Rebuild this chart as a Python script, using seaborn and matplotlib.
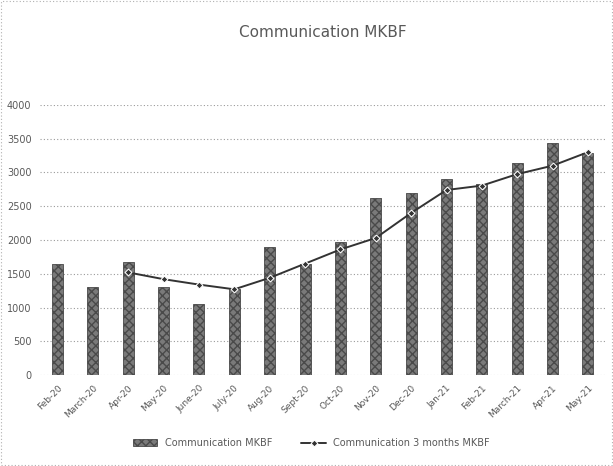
import numpy as np
import pandas as pd
import matplotlib
matplotlib.use('Agg')
import matplotlib.pyplot as plt
import seaborn as sns

months = ['Feb-20', 'March-20', 'Apr-20', 'May-20', 'June-20', 'July-20',
          'Aug-20', 'Sept-20', 'Oct-20', 'Nov-20', 'Dec-20', 'Jan-21',
          'Feb-21', 'March-21', 'Apr-21', 'May-21']
mkbf = [1650, 1310, 1680, 1310, 1060, 1280, 1890, 1650,
        1970, 2620, 2690, 2910, 2830, 3140, 3440, 3290]
mkbf_3m = [np.nan, np.nan, 1520, 1420, 1340, 1270, 1440, 1650,
           1860, 2030, 2400, 2740, 2805, 2975, 3100, 3300]
yticks = [0, 500, 1000, 1500, 2000, 2500, 3000, 3500, 4000]

df = pd.DataFrame({'month': months, 'mkbf': mkbf, 'mkbf_3m': mkbf_3m})
df['pos'] = range(len(df))

sns.set_style('white')
plt.rcParams['font.family'] = ['DejaVu Sans']

fig = plt.figure(figsize=(6.13, 4.66), dpi=100)
ax = fig.add_axes([0.065, 0.195, 0.923, 0.58])

sns.barplot(data=df, x='pos', y='mkbf', color='#7a7a7a', width=0.31,
            saturation=1, ax=ax, label='Communication MKBF', zorder=2,
            edgecolor='#4a4a4a', linewidth=0.6, hatch='xxxx')
sns.lineplot(data=df, x='pos', y='mkbf_3m', color='#333333', lw=1.4,
             marker='D', markersize=3.5, ax=ax,
             label='Communication 3 months MKBF', zorder=3)

ax.set_xlim(-0.5, len(months) - 0.5)
ax.set_ylim(0, 4000)
ax.set_yticks(yticks)
ax.set_yticklabels([str(v) for v in yticks], fontsize=7, color='#595959')
ax.set_xticks(range(len(months)))
ax.set_xticklabels(months, rotation=45, ha='right', rotation_mode='anchor',
                   fontsize=6.5, color='#595959')
ax.tick_params(axis='both', length=0, pad=6)
ax.set_xlabel('')
ax.set_ylabel('')
ax.grid(axis='y', linestyle=(0, (1, 2)), color='#9a9a9a', lw=0.8, zorder=0)
for s in ax.spines.values():
    s.set_visible(False)
ax.set_title('Communication MKBF', fontsize=11, color='#595959', pad=49)

# bars first, then line, like the original legend
handles, labels = ax.get_legend_handles_labels()
order = [labels.index('Communication MKBF'),
         labels.index('Communication 3 months MKBF')]
ax.legend([handles[i] for i in order], [labels[i] for i in order],
          loc='upper center', bbox_to_anchor=(0.48, -0.2), ncol=2,
          frameon=False, fontsize=7, handlelength=2.5,
          columnspacing=3, labelcolor='#595959')

fig.patches.append(plt.Rectangle((0.002, 0.002), 0.996, 0.996,
                                 transform=fig.transFigure, fill=False,
                                 edgecolor='#b0b0b0', lw=0.8,
                                 linestyle=(0, (1, 2))))

fig.savefig('out.png', dpi=100)
